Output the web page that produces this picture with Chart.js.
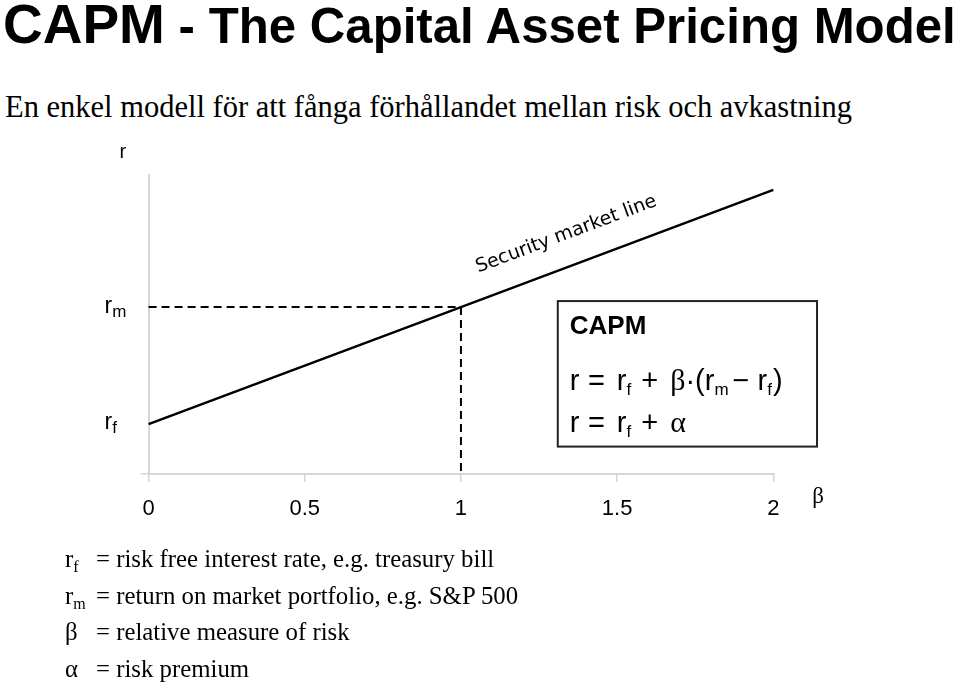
<!DOCTYPE html>
<html>
<head>
<meta charset="utf-8">
<script src="https://cdn.jsdelivr.net/npm/chart.js@4.4.1/dist/chart.umd.min.js"></script>
<style>
  html, body { margin:0; padding:0; background:#fff; }
  body { width:960px; height:682px; position:relative; overflow:hidden; color:#000; }
  #capm { position:absolute; left:0; top:0; }
  .title { position:absolute; left:3px; top:-4px; font:bold 49.2px "Liberation Sans", Arial, sans-serif; line-height:56px; white-space:nowrap; }
  .title .big { font-size:55px; }
  .subtitle { position:absolute; left:5px; top:92px; font:30.5px "Liberation Serif", "Times New Roman", serif; line-height:30px; white-space:nowrap; }
  .def { position:absolute; left:0; width:600px; height:25px; font:24.8px "Liberation Serif", "Times New Roman", serif; line-height:25px; white-space:nowrap; }
  .def .sym { position:absolute; left:65px; top:0; }
  .def .txt { position:absolute; left:96px; top:0; }
  .def sub { font-size:16px; vertical-align:-5px; line-height:0; }
</style>
</head>
<body>
<div class="title"><span class="big">CAPM</span> - The Capital Asset Pricing Model</div>
<div class="subtitle">En enkel modell för att fånga förhållandet mellan risk och avkastning</div>
<canvas id="capm" width="960" height="682"></canvas>
<div class="def" style="top:546px"><span class="sym">r<sub>f</sub></span><span class="txt">= risk free interest rate, e.g. treasury bill</span></div>
<div class="def" style="top:582.5px"><span class="sym">r<sub>m</sub></span><span class="txt">= return on market portfolio, e.g. S&amp;P 500</span></div>
<div class="def" style="top:619px"><span class="sym">&beta;</span><span class="txt">= relative measure of risk</span></div>
<div class="def" style="top:655.5px"><span class="sym">&alpha;</span><span class="txt">= risk premium</span></div>
<script>
// data läst från bilden
const betaPoints = [0, 1, 2];
const smlReturns = [1.0, 3.35, 5.7];
const riskFree = 1.0;
const marketReturn = 3.35;
const marketBeta = 1;
const betaTicks = [0, 0.5, 1, 1.5, 2];

const SANS = '"Liberation Sans", Arial, sans-serif';
const SERIF = '"Liberation Serif", "Times New Roman", serif';
const AXIS_GREY = '#d6d6d6';

// ritar en rad text i bitar (för index och grekiska tecken)
function drawRun(ctx, x, y, parts) {
  parts.forEach(p => {
    x += p.gap || 0;
    ctx.font = p.font;
    ctx.fillText(p.t, x, y + (p.dy || 0));
    x += ctx.measureText(p.t).width;
  });
}

const annotate = {
  id: 'annotate',
  afterDraw(chart) {
    const { ctx, chartArea: a, scales: { x, y } } = chart;
    ctx.save();
    ctx.fillStyle = '#000';
    ctx.textBaseline = 'alphabetic';

    // axeltitlar
    ctx.font = '20px ' + SANS;
    ctx.fillText('r', a.left - 29, a.top - 17);
    ctx.font = '23px ' + SERIF;
    ctx.fillText('β', a.right + 39, a.bottom + 29);

    // r_m och r_f vid y-axeln
    const sub = '17px ' + SANS, main = '23px ' + SANS;
    drawRun(ctx, a.left - 44, y.getPixelForValue(marketReturn) + 6, [
      { t: 'r', font: main }, { t: 'm', font: sub, dy: 4 }
    ]);
    drawRun(ctx, a.left - 44, y.getPixelForValue(riskFree) + 5, [
      { t: 'r', font: main }, { t: 'f', font: sub, dy: 4 }
    ]);

    // text längs linjen
    const x0 = x.getPixelForValue(betaPoints[0]), y0 = y.getPixelForValue(smlReturns[0]);
    const x2 = x.getPixelForValue(betaPoints[2]), y2 = y.getPixelForValue(smlReturns[2]);
    const ang = Math.atan2(y2 - y0, x2 - x0);
    const bAt = 1.055;
    const px = x.getPixelForValue(bAt);
    const py = y.getPixelForValue(riskFree + bAt * (marketReturn - riskFree)) - 28;
    ctx.save();
    ctx.translate(px, py);
    ctx.rotate(ang);
    ctx.font = '19px "DejaVu Sans", Verdana, sans-serif';
    ctx.fillText('Security market line', 0, 0);
    ctx.restore();

    // CAPM-rutan
    const bl = x.getPixelForValue(1.31), br = x.getPixelForValue(2.14);
    const bt = y.getPixelForValue(3.47), bb = y.getPixelForValue(0.55);
    ctx.strokeStyle = '#222';
    ctx.lineWidth = 2;
    ctx.strokeRect(bl, bt, br - bl, bb - bt);

    const tx = bl + 12;
    ctx.font = 'bold 26px ' + SANS;
    ctx.fillText('CAPM', tx, bt + 33);

    const f = '29px ' + SANS, s = '17px ' + SANS, g = '30px ' + SERIF;
    drawRun(ctx, tx, bt + 89, [
      { t: 'r', font: f },
      { t: '=', font: f, gap: 8.5 },
      { t: 'r', font: f, gap: 12 }, { t: 'f', font: s, dy: 5 },
      { t: '+', font: f, gap: 10 },
      { t: 'β', font: g, gap: 12 },
      { t: '·', font: f },
      { t: '(', font: f },
      { t: 'r', font: f }, { t: 'm', font: s, dy: 5 },
      { t: '−', font: f, gap: 4 },
      { t: 'r', font: f, gap: 8 }, { t: 'f', font: s, dy: 5 },
      { t: ')', font: f, gap: 1 }
    ]);
    drawRun(ctx, tx, bt + 131, [
      { t: 'r', font: f },
      { t: '=', font: f, gap: 8.5 },
      { t: 'r', font: f, gap: 12 }, { t: 'f', font: s, dy: 5 },
      { t: '+', font: f, gap: 10 },
      { t: 'α', font: g, gap: 12 }
    ]);
    ctx.restore();
  }
};

const axisGrid = {
  drawOnChartArea: false,
  drawTicks: true,
  tickLength: 8,
  color: AXIS_GREY,
  lineWidth: 1.5
};

new Chart(document.getElementById('capm'), {
  type: 'line',
  data: {
    datasets: [
      {
        label: 'Security market line',
        data: betaPoints.map((b, i) => ({ x: b, y: smlReturns[i] })),
        borderColor: '#000',
        borderWidth: 2.5,
        pointRadius: 0,
        tension: 0
      },
      {
        label: 'r_m',
        data: [{ x: 0, y: marketReturn }, { x: marketBeta, y: marketReturn }],
        borderColor: '#000',
        borderWidth: 2,
        borderDash: [8, 5],
        pointRadius: 0
      },
      {
        label: 'beta 1',
        data: [{ x: marketBeta, y: marketReturn }, { x: marketBeta, y: 0 }],
        borderColor: '#000',
        borderWidth: 2,
        borderDash: [8, 5],
        pointRadius: 0
      }
    ]
  },
  options: {
    responsive: false,
    animation: false,
    devicePixelRatio: 1,
    clip: false,
    layout: { padding: { top: 175, right: 186.7, left: 0, bottom: 0 } },
    plugins: { legend: { display: false }, tooltip: { enabled: false } },
    scales: {
      x: {
        type: 'linear',
        min: 0,
        max: 2,
        afterBuildTicks: s => { s.ticks = betaTicks.map(v => ({ value: v })); },
        afterFit: s => { s.height = 208; },
        ticks: {
          color: '#000',
          font: { family: SANS, size: 22 },
          padding: 14,
          callback: v => String(v)
        },
        grid: axisGrid,
        border: { color: AXIS_GREY, width: 2 }
      },
      y: {
        type: 'linear',
        min: 0,
        max: 6,
        afterBuildTicks: s => { s.ticks = [{ value: 0 }]; },
        afterFit: s => { s.width = 148.6; },
        ticks: { display: false },
        grid: axisGrid,
        border: { color: AXIS_GREY, width: 2 }
      }
    }
  },
  plugins: [annotate]
});
</script>
</body>
</html>
